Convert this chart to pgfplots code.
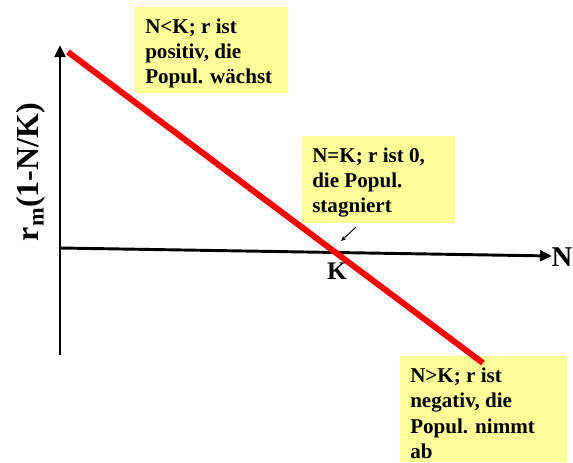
\documentclass[border=0pt]{standalone}
\usepackage{pgfplots}
\pgfplotsset{compat=1.18}
\usepackage{fontspec}
\setmainfont{Liberation Serif}
\usetikzlibrary{arrows.meta}
\definecolor{boxyellow}{RGB}{255,255,153}
\begin{document}
\begin{tikzpicture}
\useasboundingbox (0,0) rectangle (429.75pt,346.5pt);
\begin{axis}[
  at={(0,0)}, anchor=south west,
  scale only axis, width=429.75pt, height=346.5pt,
  xmin=0, xmax=573, ymin=0, ymax=462,
  hide axis, clip=false,
]
% yellow boxes
\fill[boxyellow] (axis cs:135,455) rectangle (axis cs:288,369);
\fill[boxyellow] (axis cs:302,326) rectangle (axis cs:455,239);
\fill[boxyellow] (axis cs:400,106) rectangle (axis cs:567,0);
% axes
\addplot[black, line width=2.2pt, -{Triangle[length=9pt,width=8pt]}, forget plot] coordinates {(60,107) (60,417)};
\addplot[black, line width=2.2pt, -{Triangle[length=9pt,width=8pt]}, forget plot] coordinates {(60,214) (552,206)};
% red line r_m(1-N/K)
\addplot[red, line width=4.5pt, forget plot] coordinates {(68,410) (483,99)};
% small pointer arrow
\addplot[black, line width=0.7pt, -{Stealth[length=4pt,width=3.5pt]}, forget plot] coordinates {(356,235) (341,221)};
% texts
\begin{scope}[every node/.style={inner sep=0pt, font=\fontsize{15.8}{18.75}\selectfont\bfseries, anchor=base west}]
\node at (axis cs:145,429) {N<K; r ist};
\node at (axis cs:145,404) {positiv, die};
\node at (axis cs:145,379) {Popul. wächst};
\node at (axis cs:312,300) {N=K; r ist 0,};
\node at (axis cs:312,275) {die Popul.};
\node at (axis cs:312,250) {stagniert};
\node at (axis cs:410,80) {N>K; r ist};
\node at (axis cs:410,55) {negativ, die};
\node at (axis cs:410,29) {Popul. nimmt};
\node at (axis cs:410,4) {ab};
\end{scope}
\node[inner sep=0pt, font=\fontsize{19}{21}\selectfont\bfseries] at (axis cs:337,191) {K};
\node[inner sep=0pt, font=\fontsize{21.5}{24}\selectfont\bfseries, anchor=east] at (axis cs:572.5,205) {N};
\node[inner sep=0pt, rotate=90, font=\fontsize{24}{26}\selectfont\bfseries] at (axis cs:31,290) {r\textsubscript{m}(1-N/K)};
\end{axis}
\end{tikzpicture}
\end{document}
